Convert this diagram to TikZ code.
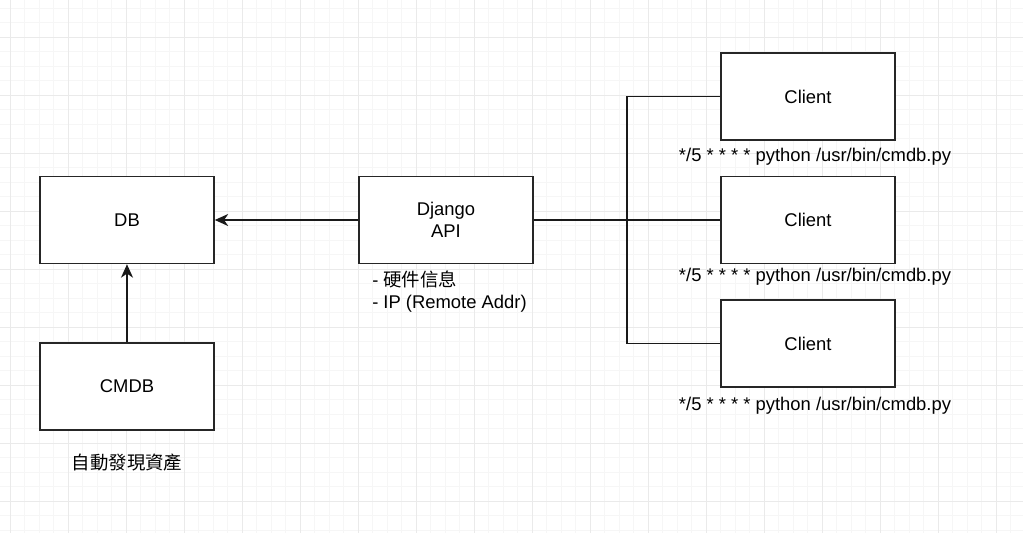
\documentclass[tikz,border=0pt]{standalone}
\usepackage{fontspec}
\setmainfont{Liberation Sans}
\newfontfamily\cjk{Noto Sans CJK TC}
\usetikzlibrary{arrows.meta}
\definecolor{gridminor}{HTML}{F6F6F6}
\definecolor{gridmajor}{HTML}{EAEAEA}
\tikzstyle{box}=[draw=black!85,line width=1.2pt,fill=white,minimum width=130.5pt,minimum height=65.25pt,inner sep=0pt,align=center,font=\fontsize{13.8}{16.5}\selectfont]
\tikzstyle{note}=[inner sep=0pt,align=left,font=\fontsize{13.8}{16.5}\selectfont]
\tikzstyle{wire}=[draw=black!90,line width=1.1pt]
\tikzstyle{tip}=[-{Stealth[length=10pt,width=9pt,inset=3pt]}]

\begin{document}
\begin{tikzpicture}[x=0.75pt,y=-0.75pt]
    \useasboundingbox (0,0) rectangle (1023,533);
    \fill[white] (0,0) rectangle (1023,533);
%   grid
    \foreach \i in {0,...,70} \draw[gridminor,line width=0.7pt] (10+14.5*\i,0) -- (10+14.5*\i,533);
    \foreach \i in {0,...,37} \draw[gridminor,line width=0.7pt] (0,8+14.5*\i) -- (1023,8+14.5*\i);
    \foreach \i in {0,...,17} \draw[gridmajor,line width=0.7pt] (10+58*\i,0) -- (10+58*\i,533);
    \foreach \i in {0,...,10} \draw[gridmajor,line width=0.7pt] (0,-21+58*\i) -- (1023,-21+58*\i);
%   boxes
    \node[box] (db)      at (127,220)   {DB};
    \node[box] (cmdb)    at (127,386.5) {CMDB};
    \node[box] (django)  at (446,220)   {Django\\API};
    \node[box] (client1) at (808,96.5)  {Client};
    \node[box] (client2) at (808,220)   {Client};
    \node[box] (client3) at (808,343.5) {Client};
%   notes
    \node[note] (cron1) at (815,157) {*/5 * * * * python /usr/bin/cmdb.py};
    \node[note] (cron2) at (815,277) {*/5 * * * * python /usr/bin/cmdb.py};
    \node[note] (cron3) at (815,406) {*/5 * * * * python /usr/bin/cmdb.py};
    \node[note,anchor=west] (info) at (372,292) {- {\cjk 硬件信息}\\- IP (Remote Addr)};
    \node[note] (auto) at (127,463) {\cjk 自動發現資產};
%   edges
    \coordinate (split) at (627,220);
    \draw[wire,tip] (django) -- (db);
    \draw[wire,tip] (cmdb) -- (db);
    \draw[wire] (django) -- (client2);
    \draw[wire] (split) |- (client1);
    \draw[wire] (split) |- (client3);
\end{tikzpicture}
\end{document}
